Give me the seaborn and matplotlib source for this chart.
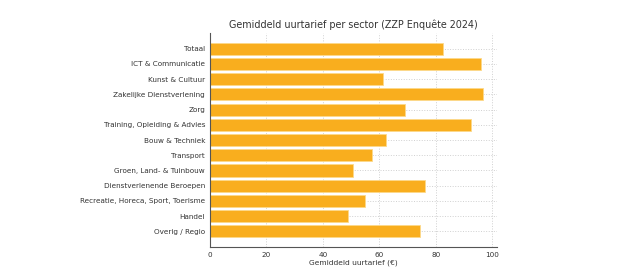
import numpy as np
import pandas as pd
import seaborn as sns
import matplotlib
matplotlib.use('Agg')
import matplotlib.pyplot as plt

# data
sectors = ['Totaal', 'ICT & Communicatie', 'Kunst & Cultuur', 'Zakelijke Dienstverlening',
           'Zorg', 'Training, Opleiding & Advies', 'Bouw & Techniek', 'Transport',
           'Groen, Land- & Tuinbouw', 'Dienstverlenende Beroepen',
           'Recreatie, Horeca, Sport, Toerisme', 'Handel', 'Overig / Regio']
tarief = [82.5, 96.2, 61.3, 96.8, 69.2, 92.7, 62.5, 57.4, 50.8, 76.3, 54.8, 49.1, 74.3]

df = pd.DataFrame({'Sector': sectors, 'Tarief': tarief})

sns.set_style('white')
plt.rcParams['font.family'] = ['DejaVu Sans']

fig = plt.figure(figsize=(6.4, 2.77), dpi=100)
ax = fig.add_axes([0.328, 0.108, 0.449, 0.773])

sns.barplot(data=df, x='Tarief', y='Sector', color='#F9AE1E', saturation=1,
            width=0.8, edgecolor='#FDD98A', linewidth=0.6, ax=ax)

n = len(sectors)
ax.set_ylim(n - 1 + 1.04, -1.04)
ax.set_xlim(0, 101.85)
ax.set_xticks([0, 20, 40, 60, 80, 100])

ax.grid(True, linestyle=':', color='#d0d0d0', linewidth=0.7)
ax.set_axisbelow(True)
for s in ['top', 'right']:
  ax.spines[s].set_visible(False)
for s in ['left', 'bottom']:
  ax.spines[s].set_color('#555555')
  ax.spines[s].set_linewidth(0.8)

ax.tick_params(axis='both', labelsize=5.2, length=2, width=0.5, colors='#555555',
               labelcolor='#333333', pad=1.5)
ax.set_xlabel('Gemiddeld uurtarief (€)', fontsize=5.4, color='#333333', labelpad=1)
ax.set_ylabel('')
ax.set_title('Gemiddeld uurtarief per sector (ZZP Enquête 2024)', fontsize=6.9,
             color='#333333', pad=3.5)

fig.savefig('out.png', dpi=100)
